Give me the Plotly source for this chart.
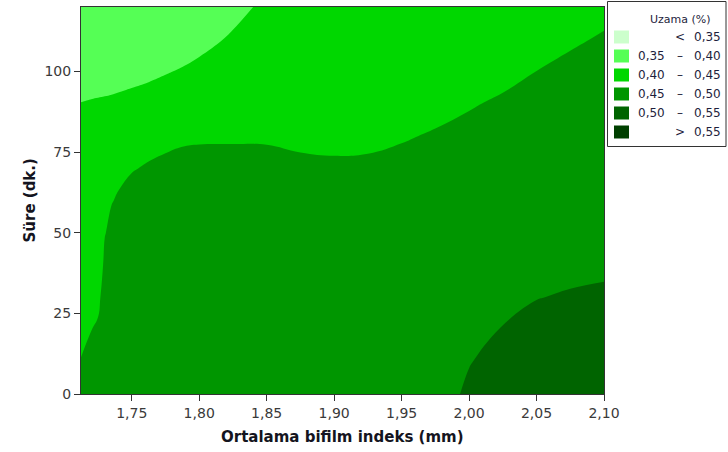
import plotly.graph_objects as go

# Ortalama bifilm indeks (mm) grid columns and Süre (dk.) grid rows
bifilm = [1.7124, 1.72, 1.725, 1.73, 1.735, 1.74, 1.75, 1.7625, 1.775, 1.7875, 1.80, 1.825,
          1.85, 1.875, 1.90, 1.925, 1.95, 1.975, 2.00, 2.025, 2.05, 2.075, 2.10]
sure = [0, 10, 20, 30, 40, 50, 60, 70, 80, 90, 100, 110, 120]

# Uzama (%) on the grid, one row per Süre value
uzama = [
    [0.457, 0.4636, 0.4674, 0.472, 0.474, 0.476, 0.478, 0.48, 0.481, 0.482, 0.483, 0.484, 0.484, 0.485, 0.486, 0.487, 0.488, 0.489, 0.504, 0.515, 0.5205, 0.5222, 0.5224],
    [0.4509, 0.4567, 0.4601, 0.4675, 0.4699, 0.4719, 0.4739, 0.4758, 0.4769, 0.4778, 0.4787, 0.4796, 0.4796, 0.4803, 0.4811, 0.482, 0.4831, 0.4843, 0.499, 0.508, 0.5135, 0.5154, 0.516],
    [0.4446, 0.4497, 0.4528, 0.4629, 0.4658, 0.4677, 0.4698, 0.4717, 0.4727, 0.4736, 0.4745, 0.4752, 0.4752, 0.4757, 0.4763, 0.4771, 0.4782, 0.4795, 0.4927, 0.501, 0.5064, 0.5086, 0.5095],
    [0.4383, 0.4428, 0.4454, 0.4584, 0.4617, 0.4636, 0.4658, 0.4675, 0.4686, 0.4695, 0.4702, 0.4708, 0.4708, 0.471, 0.4714, 0.4721, 0.4733, 0.4748, 0.4864, 0.4941, 0.4994, 0.5018, 0.5031],
    [0.4319, 0.4358, 0.4381, 0.4539, 0.4576, 0.4595, 0.4617, 0.4634, 0.4644, 0.4653, 0.4659, 0.4665, 0.4664, 0.4663, 0.4665, 0.4671, 0.4684, 0.47, 0.4801, 0.4871, 0.4923, 0.495, 0.4967],
    [0.4256, 0.4289, 0.4308, 0.4493, 0.4535, 0.4553, 0.4576, 0.4592, 0.4603, 0.4611, 0.4617, 0.4621, 0.462, 0.4616, 0.4616, 0.4622, 0.4635, 0.4653, 0.4738, 0.4802, 0.4853, 0.4883, 0.4902],
    [0.4193, 0.4219, 0.4234, 0.4368, 0.4494, 0.4512, 0.4535, 0.455, 0.4561, 0.4569, 0.4574, 0.4577, 0.4576, 0.457, 0.4568, 0.4572, 0.4587, 0.4606, 0.4675, 0.4732, 0.4783, 0.4815, 0.4838],
    [0.4129, 0.415, 0.4161, 0.4254, 0.4332, 0.4471, 0.4494, 0.4509, 0.452, 0.4528, 0.4531, 0.4533, 0.4532, 0.4523, 0.4519, 0.4522, 0.4538, 0.4558, 0.4612, 0.4663, 0.4712, 0.4747, 0.4774],
    [0.4066, 0.408, 0.4087, 0.414, 0.4187, 0.4221, 0.4283, 0.4466, 0.4477, 0.4486, 0.4489, 0.4489, 0.4488, 0.4476, 0.447, 0.4473, 0.4489, 0.4511, 0.4549, 0.4593, 0.4642, 0.4679, 0.471],
    [0.4003, 0.401, 0.4014, 0.4025, 0.4041, 0.4057, 0.4093, 0.4136, 0.4185, 0.423, 0.4267, 0.4323, 0.4371, 0.4364, 0.4371, 0.4376, 0.4401, 0.4463, 0.4486, 0.4524, 0.4572, 0.4611, 0.4645],
    [0.3938, 0.394, 0.3939, 0.3916, 0.3895, 0.3894, 0.3903, 0.3933, 0.3979, 0.4028, 0.4083, 0.4182, 0.4269, 0.4274, 0.4291, 0.4296, 0.432, 0.4359, 0.4402, 0.4453, 0.4501, 0.4543, 0.4581],
    [0.3874, 0.387, 0.3865, 0.3808, 0.3798, 0.3788, 0.3795, 0.3817, 0.3853, 0.3828, 0.3899, 0.4041, 0.4168, 0.4184, 0.4211, 0.4216, 0.4239, 0.4279, 0.4322, 0.4367, 0.4422, 0.4476, 0.4517],
    [0.381, 0.38, 0.379, 0.37, 0.368, 0.366, 0.366, 0.368, 0.372, 0.376, 0.381, 0.39, 0.4067, 0.4094, 0.4131, 0.4136, 0.4158, 0.4199, 0.4242, 0.4287, 0.4342, 0.4389, 0.4452],
]

# contour levels and class colours (lowest class first)
levels = [0.35, 0.40, 0.45, 0.50, 0.55]
class_colors = ["#ccffcc", "#55ff55", "#00d700", "#009600", "#006400", "#004000"]
legend_labels = [("", "<", "0,35"), ("0,35", "–", "0,40"), ("0,40", "–", "0,45"),
                 ("0,45", "–", "0,50"), ("0,50", "–", "0,55"), ("", ">", "0,55")]

x_ticks = [1.75, 1.80, 1.85, 1.90, 1.95, 2.00, 2.05, 2.10]
y_ticks = [0, 25, 50, 75, 100]

W, H = 728, 452
ML, MR, MT, MB = 81, 124, 7, 58
PW, PH = W - ML - MR, H - MT - MB


def px(x):
    return (x - ML) / PW


def py(y):
    return (H - MB - y) / PH


step = levels[1] - levels[0]
fig = go.Figure(go.Contour(
    x=bifilm, y=sure, z=uzama,
    contours=dict(start=levels[0], end=levels[-1], size=step, coloring="fill"),
    colorscale=[[i / (len(class_colors) - 1), c] for i, c in enumerate(class_colors)],
    line=dict(width=0, smoothing=1.3),
    showscale=False,
    hoverinfo="skip",
))

tick_font = dict(family="DejaVu Sans", size=14, color="#3a3a3a")
fig.update_layout(
    width=W, height=H,
    margin=dict(l=ML, r=MR, t=MT, b=MB),
    plot_bgcolor="white", paper_bgcolor="white",
    separators=",.",
    showlegend=False,
)
fig.update_xaxes(range=[bifilm[0], bifilm[-1]], tickvals=x_ticks, tickformat=".2f",
                 ticks="outside", ticklen=6, tickcolor="#333", tickfont=tick_font,
                 showline=True, mirror=True, linecolor="#333", linewidth=1,
                 showgrid=False, zeroline=False)
fig.update_yaxes(range=[sure[0], sure[-1]], tickvals=y_ticks,
                 ticks="outside", ticklen=6, tickcolor="#333", tickfont=tick_font,
                 showline=True, mirror=True, linecolor="#333", linewidth=1,
                 showgrid=False, zeroline=False)

title_font = dict(family="DejaVu Sans", size=15, color="#141420")
fig.add_annotation(text="<b>Ortalama bifilm indeks (mm)</b>", xref="paper", yref="paper",
                   x=px(342.5), y=py(437), showarrow=False, font=title_font,
                   xanchor="center", yanchor="middle")
fig.add_annotation(text="<b>Süre (dk.)</b>", xref="paper", yref="paper",
                   x=px(29), y=py(200.5), showarrow=False, font=title_font, textangle=-90,
                   xanchor="center", yanchor="middle")

# legend box
fig.add_shape(type="rect", xref="paper", yref="paper",
              x0=px(607.5), x1=px(726), y0=py(146.5), y1=py(1.5),
              line=dict(color="#333", width=1), fillcolor="white", layer="above")
leg_font = dict(family="DejaVu Sans", size=12, color="#1e1e3c")
fig.add_annotation(text="Uzama (%)", xref="paper", yref="paper", x=px(680), y=py(19),
                   showarrow=False, font=dict(family="DejaVu Sans", size=11, color="#1e1e3c"),
                   xanchor="center", yanchor="middle")
for i, (c, (lo, sym, hi)) in enumerate(zip(class_colors, legend_labels)):
    yc = 37 + 19 * i
    fig.add_shape(type="rect", xref="paper", yref="paper",
                  x0=px(614), x1=px(629), y0=py(yc + 6.5), y1=py(yc - 6.5),
                  line=dict(width=0), fillcolor=c, layer="above")
    if lo:
        fig.add_annotation(text=lo, xref="paper", yref="paper", x=px(667), y=py(yc),
                           showarrow=False, font=leg_font, xanchor="right", yanchor="middle")
    fig.add_annotation(text=sym, xref="paper", yref="paper", x=px(680), y=py(yc),
                       showarrow=False, font=leg_font, xanchor="center", yanchor="middle")
    fig.add_annotation(text=hi, xref="paper", yref="paper", x=px(723), y=py(yc),
                       showarrow=False, font=leg_font, xanchor="right", yanchor="middle")

fig.write_html("out.html")
